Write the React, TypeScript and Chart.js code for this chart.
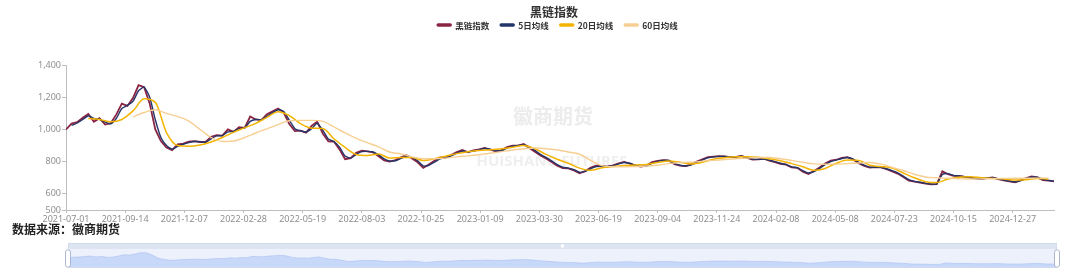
import React, { useEffect, useRef } from 'react';
import { Chart, registerables } from 'chart.js';

Chart.register(...registerables);

// ---------- data ----------
const TITLE = '黑链指数';
const SOURCE_TEXT = '数据来源：徽商期货';
const WATERMARK_CN = '徽商期货';
const WATERMARK_EN = 'HUISHANG FUTURES';

const SERIES_NAMES = ['黑链指数', '5日均线', '20日均线', '60日均线'];

const TICK_LABELS = [
  '2021-07-01', '2021-09-14', '2021-12-07', '2022-02-28', '2022-05-19', '2022-08-03',
  '2022-10-25', '2023-01-09', '2023-03-30', '2023-06-19', '2023-09-04', '2023-11-24',
  '2024-02-08', '2024-05-08', '2024-07-23', '2024-10-15', '2024-12-27',
];
const LABEL_INTERVAL = 53; // trading days between axis labels
const LAST_DAY = 885; // last trading-day index
const SAMPLE_STEP = 5; // index & MA5 read every 5 trading days
const MA_STEP = 10; // MA20 & MA60 read every 10 trading days
const MA20_START = 20;
const MA60_START = 60;

const Y_TICKS = [500, 600, 800, 1000, 1200, 1400];

const INDEX = [
  1000, 1036, 1045, 1072, 1096, 1048, 1070, 1030, 1038, 1092,
  1160, 1146, 1195, 1275, 1262, 1160, 1000, 928, 888, 872,
  908, 912, 924, 928, 922, 922, 955, 965, 962, 1000,
  985, 1014, 1010, 1080, 1062, 1058, 1095, 1112, 1130, 1105,
  1033, 990, 993, 980, 1022, 1048, 975, 926, 925, 876,
  815, 822, 855, 868, 864, 858, 834, 808, 800, 810,
  827, 840, 820, 796, 762, 782, 806, 826, 826, 841,
  860, 872, 858, 870, 877, 885, 875, 864, 870, 890,
  900, 900, 910, 884, 862, 838, 820, 798, 775, 760,
  758, 746, 728, 741, 763, 775, 772, 769, 777, 789,
  798, 788, 775, 769, 776, 797, 805, 809, 807, 784,
  775, 772, 783, 800, 814, 828, 831, 834, 832, 828,
  830, 836, 824, 813, 814, 818, 806, 797, 787, 781,
  764, 762, 738, 724, 742, 764, 789, 806, 812, 824,
  828, 814, 791, 773, 763, 766, 765, 753, 740, 726,
  705, 682, 676, 670, 664, 659, 661, 740, 722, 712,
  712, 706, 701, 695, 694, 698, 702, 692, 684, 678,
  672, 684, 698, 708, 702, 686, 682, 677,
];

const MA5 = [
  null, 1025, 1040, 1062, 1085, 1068, 1062, 1045, 1035, 1068,
  1130, 1150, 1175, 1240, 1262, 1200, 1060, 950, 900, 878,
  895, 908, 918, 925, 924, 920, 942, 960, 962, 985,
  988, 1005, 1010, 1050, 1062, 1060, 1082, 1105, 1122, 1112,
  1058, 1005, 992, 984, 1005, 1038, 995, 940, 925, 890,
  835, 822, 845, 862, 864, 860, 842, 818, 804, 806,
  820, 834, 826, 805, 774, 778, 797, 818, 825, 836,
  852, 866, 862, 866, 874, 882, 878, 868, 868, 884,
  896, 900, 906, 892, 870, 845, 826, 805, 782, 766,
  760, 750, 734, 740, 756, 770, 772, 770, 775, 786,
  795, 790, 778, 771, 774, 790, 802, 808, 807, 790,
  778, 773, 780, 795, 810, 824, 830, 833, 832, 829,
  830, 834, 826, 816, 814, 816, 809, 800, 790, 783,
  768, 763, 744, 730, 738, 758, 782, 800, 810, 820,
  826, 816, 796, 778, 766, 765, 765, 756, 744, 730,
  710, 688, 678, 672, 666, 661, 662, 720, 726, 715,
  712, 707, 702, 697, 695, 697, 700, 694, 686, 680,
  674, 682, 695, 705, 703, 690, 684, 679,
];

const MA20 = [
  1068, 1062, 1048, 1062, 1115, 1190, 1168, 980, 900, 896,
  904, 922, 950, 982, 1010, 1038, 1075, 1110, 1086, 1036,
  1008, 1006, 942, 888, 845, 838, 848, 822, 826, 826,
  808, 818, 834, 850, 862, 870, 874, 880, 890, 900,
  880, 845, 815, 790, 760, 746, 762, 770, 776, 780,
  783, 795, 804, 796, 786, 796, 815, 824, 830, 831,
  828, 818, 806, 788, 768, 746, 758, 790, 810, 808,
  778, 770, 760, 730, 700, 676, 670, 692, 704, 706,
  700, 696, 692, 686, 688, 696, 692,
];

const MA60 = [
  1078, 1105, 1122, 1100, 1080, 1052, 1000, 950, 925, 928,
  950, 978, 1004, 1030, 1054, 1056, 1056, 1050, 1016, 978,
  945, 918, 892, 860, 848, 830, 818, 818, 822, 830,
  836, 843, 852, 862, 872, 880, 885, 880, 872, 860,
  846, 808, 775, 768, 768, 770, 773, 778, 788, 795,
  796, 803, 808, 813, 818, 822, 826, 826, 818, 808,
  796, 786, 784, 785, 788, 792, 795, 785, 765, 745,
  722, 705, 700, 697, 694, 692, 693, 695, 696, 697,
  697, 698, 698,
];

// ---------- styles ----------
const COLORS = ['#8a2442', '#263569', '#f2b400', '#f7cf93'];
const WIDTHS = [1.8, 1.4, 1.5, 1.4];
const CJK = '"Noto Sans CJK SC", "Noto Sans", sans-serif';
const AXIS_FONT = '"Noto Sans", "Open Sans", sans-serif';
const AXIS_COLOR = '#bdbdbd';
const LABEL_COLOR = '#8f8f8f';

const toPoints = (arr: (number | null)[], start: number, step: number) =>
  arr.map((v, i) => ({ x: start + i * step, y: v }));

const decorPlugin = {
  id: 'decor',
  beforeDatasetsDraw(chart: any) {
    const ctx = chart.ctx as CanvasRenderingContext2D;
    ctx.save();
    ctx.textAlign = 'center';
    ctx.textBaseline = 'middle';
    ctx.fillStyle = '#ececec';
    ctx.font = `bold 20px ${CJK}`;
    ctx.fillText(WATERMARK_CN, 553, 116);
    ctx.fillStyle = '#efefef';
    ctx.font = 'bold 15px "Open Sans", sans-serif';
    ctx.fillText(WATERMARK_EN, 552, 162);
    ctx.restore();
  },
  afterDraw(chart: any) {
    const ctx = chart.ctx as CanvasRenderingContext2D;
    ctx.save();
    ctx.textAlign = 'center';
    ctx.textBaseline = 'middle';
    ctx.fillStyle = '#333';
    ctx.font = `bold 12px ${CJK}`;
    ctx.fillText(TITLE, 554, 12);
    ctx.font = `bold 8.5px ${CJK}`;
    const iconW = 16;
    const gap = 3;
    const spacing = 10;
    const ds = chart.data.datasets;
    const widths = ds.map((d: any) => ctx.measureText(d.label).width);
    const total =
      widths.reduce((a: number, b: number) => a + b, 0) +
      ds.length * (iconW + gap) +
      spacing * (ds.length - 1);
    let x = 557 - total / 2;
    const y = 25;
    ctx.textAlign = 'left';
    ds.forEach((d: any, i: number) => {
      ctx.strokeStyle = d.borderColor;
      ctx.lineWidth = 3.5;
      ctx.lineCap = 'round';
      ctx.beginPath();
      ctx.moveTo(x + 2, y);
      ctx.lineTo(x + iconW - 2, y);
      ctx.stroke();
      x += iconW + gap;
      ctx.fillStyle = '#333';
      ctx.fillText(d.label, x, y + 0.5);
      x += widths[i] + spacing;
    });
    ctx.restore();
  },
};

const SL = { left: 68, right: 1057, bandTop: 3, bodyTop: 9, bottom: 28 };

const sliderPlugin = {
  id: 'sliderFrame',
  beforeDatasetsDraw(chart: any) {
    const ctx = chart.ctx as CanvasRenderingContext2D;
    ctx.save();
    ctx.fillStyle = '#edf1fb';
    ctx.fillRect(SL.left, SL.bandTop, SL.right - SL.left, SL.bottom - SL.bandTop);
    ctx.fillStyle = '#dde4f2';
    ctx.fillRect(SL.left, SL.bandTop, SL.right - SL.left, SL.bodyTop - SL.bandTop);
    ctx.restore();
  },
  afterDraw(chart: any) {
    const ctx = chart.ctx as CanvasRenderingContext2D;
    ctx.save();
    ctx.strokeStyle = '#d2dbee';
    ctx.lineWidth = 1;
    ctx.strokeRect(SL.left + 0.5, SL.bandTop + 0.5, SL.right - SL.left - 1, SL.bottom - SL.bandTop - 1);
    ctx.fillStyle = '#ffffff';
    ctx.fillRect((SL.left + SL.right) / 2 - 1.5, 4.5, 3, 3);
    const cy = (SL.bodyTop + SL.bottom) / 2;
    [SL.left, SL.right].forEach((hx) => {
      ctx.beginPath();
      const w = 5, h = 17, r = 2;
      const x0 = hx - w / 2, y0 = cy - h / 2;
      ctx.moveTo(x0 + r, y0);
      ctx.arcTo(x0 + w, y0, x0 + w, y0 + h, r);
      ctx.arcTo(x0 + w, y0 + h, x0, y0 + h, r);
      ctx.arcTo(x0, y0 + h, x0, y0, r);
      ctx.arcTo(x0, y0, x0 + w, y0, r);
      ctx.closePath();
      ctx.fillStyle = '#ffffff';
      ctx.fill();
      ctx.strokeStyle = '#acb8d1';
      ctx.stroke();
    });
    ctx.restore();
  },
};

export default function App() {
  const mainRef = useRef<HTMLCanvasElement>(null);
  const zoomRef = useRef<HTMLCanvasElement>(null);

  useEffect(() => {
    document.body.style.margin = '0';
    const seriesData = [
      toPoints(INDEX, 0, SAMPLE_STEP),
      toPoints(MA5, 0, SAMPLE_STEP),
      toPoints(MA20, MA20_START, MA_STEP),
      toPoints(MA60, MA60_START, MA_STEP),
    ];
    const main = new Chart(mainRef.current as HTMLCanvasElement, {
      type: 'line',
      data: {
        datasets: SERIES_NAMES.map((name, i) => ({
          label: name,
          data: seriesData[i] as any,
          borderColor: COLORS[i],
          backgroundColor: COLORS[i],
          borderWidth: WIDTHS[i],
          pointRadius: 0,
          tension: i === 0 ? 0 : i === 1 ? 0.2 : 0.4,
          cubicInterpolationMode: i >= 2 ? 'monotone' : 'default',
          spanGaps: true,
          order: 4 - i,
          fill: false,
        })),
      },
      options: {
        responsive: false,
        animation: false,
        events: [],
        layout: { padding: { left: 0, right: 26, top: 65, bottom: 0 } },
        plugins: {
          legend: { display: false },
          title: { display: false },
          tooltip: { enabled: false },
        },
        scales: {
          x: {
            type: 'linear',
            min: 0,
            max: LAST_DAY,
            afterBuildTicks: (s: any) => {
              s.ticks = TICK_LABELS.map((_, i) => ({ value: i * LABEL_INTERVAL }));
            },
            afterFit: (s: any) => {
              s.height = 26;
            },
            ticks: {
              autoSkip: false,
              maxRotation: 0,
              padding: 1,
              color: LABEL_COLOR,
              font: { size: 9, family: AXIS_FONT },
              callback: (v: any) => TICK_LABELS[Math.round(Number(v) / LABEL_INTERVAL)] ?? '',
            },
            grid: { display: true, drawOnChartArea: false, drawTicks: true, tickLength: 3, color: AXIS_COLOR },
            border: { display: true, color: AXIS_COLOR },
          },
          y: {
            type: 'linear',
            min: 500,
            max: 1400,
            afterBuildTicks: (s: any) => {
              s.ticks = Y_TICKS.map((v) => ({ value: v }));
            },
            afterFit: (s: any) => {
              s.width = 66;
            },
            ticks: {
              padding: 1,
              color: LABEL_COLOR,
              font: { size: 9, family: AXIS_FONT },
              callback: (v: any) => Number(v).toLocaleString('en-US'),
            },
            grid: { display: true, drawOnChartArea: false, drawTicks: true, tickLength: 4, color: AXIS_COLOR },
            border: { display: true, color: AXIS_COLOR },
          },
        },
      },
      plugins: [decorPlugin],
    });

    const lo = Math.min(...INDEX);
    const hi = Math.max(...INDEX);
    const pad = (hi - lo) * 0.3;
    const zoom = new Chart(zoomRef.current as HTMLCanvasElement, {
      type: 'line',
      data: {
        datasets: [
          {
            data: toPoints(INDEX, 0, SAMPLE_STEP) as any,
            borderColor: '#a9c0f3',
            borderWidth: 0.6,
            backgroundColor: 'rgba(150,182,246,0.42)',
            fill: 'start',
            pointRadius: 0,
            tension: 0,
          },
        ],
      },
      options: {
        responsive: false,
        animation: false,
        events: [],
        layout: { padding: { left: SL.left, right: 1080 - SL.right, top: SL.bodyTop, bottom: 34 - SL.bottom } },
        plugins: { legend: { display: false }, tooltip: { enabled: false }, title: { display: false } },
        scales: {
          x: { type: 'linear', display: false, min: 0, max: LAST_DAY },
          y: { type: 'linear', display: false, min: lo - pad, max: hi + pad },
        },
      },
      plugins: [sliderPlugin],
    });

    return () => {
      main.destroy();
      zoom.destroy();
    };
  }, []);

  return (
    <div style={{ position: 'relative', width: 1080, height: 277, background: '#fff', overflow: 'hidden' }}>
      <canvas ref={mainRef} width={1080} height={236} style={{ position: 'absolute', left: 0, top: 0 }} />
      <div
        style={{
          position: 'absolute',
          left: 12,
          top: 221,
          fontFamily: CJK,
          fontWeight: 'bold',
          fontSize: 12,
          lineHeight: '16px',
          color: '#222',
          whiteSpace: 'nowrap',
        }}
      >
        {SOURCE_TEXT}
      </div>
      <canvas ref={zoomRef} width={1080} height={34} style={{ position: 'absolute', left: 0, top: 240 }} />
    </div>
  );
}
